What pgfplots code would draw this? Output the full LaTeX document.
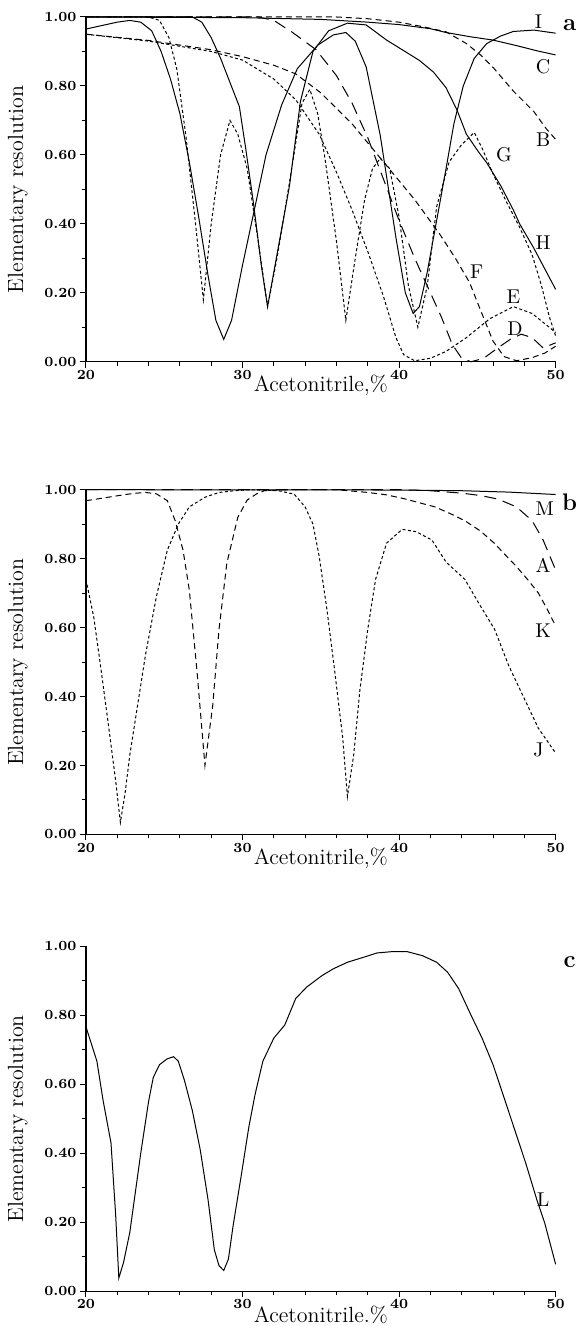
\documentclass[border=0pt]{standalone}
\usepackage{pgfplots}
\pgfplotsset{compat=1.18}
\begin{document}
\begin{tikzpicture}
\pgfplotsset{
  panel/.style={
    scale only axis, width=235pt, height=172.5pt,
    xmin=20, xmax=50, ymin=0, ymax=1,
    axis lines=left, axis line style={-, line width=0.6pt},
    xtick={20,30,40,50}, minor x tick num=4,
    ytick={0,0.2,0.4,0.6,0.8,1}, minor y tick num=1,
    tick align=outside, major tick length=3pt, minor tick length=2pt,
    tick style={line width=0.5pt, black},
    yticklabel style={inner sep=1.5pt, /pgf/number format/fixed, /pgf/number format/fixed zerofill, /pgf/number format/precision=2},
    xticklabel style={inner sep=1pt},
    tick label style={font=\scriptsize\bfseries},
    /pgf/number format/assume math mode=true,
    xlabel={Acetonitrile,\%},
    ylabel={Elementary resolution},
    label style={font=\fontsize{11}{13}\selectfont},
    xlabel style={at={(axis description cs:0.5,0)}, anchor=center, yshift=-12pt, inner sep=1pt},
    ylabel style={at={(axis description cs:-0.145,0.5)}, anchor=center},
    clip=false, no markers,
    cycle list={{black,solid}},
    every axis plot/.append style={black, line width=0.5pt},
  },
}
\tikzset{
  dots/.style={dash pattern=on 1.5pt off 1.2pt},
  dsh/.style={dash pattern=on 3pt off 2pt},
  ldsh/.style={dash pattern=on 6pt off 3.5pt},
  lab/.style={font=\normalsize},
  plab/.style={font=\large\bfseries, inner sep=1pt},
}
% page frame (578 x 1326 px at 0.5pt/px)
\path (-43pt,8.5pt) rectangle (246pt,-654.5pt);

% ---------------- panel a
\begin{axis}[panel, at={(0pt,0pt)}, anchor=north west]
% I
\addplot coordinates {(20,0.965) (21,0.975) (22,0.985) (22.8,0.99) (23.5,0.985) (24.2,0.96) (24.8,0.90) (25.4,0.82) (26,0.72) (26.6,0.58) (27.2,0.42) (27.8,0.25) (28.3,0.12) (28.8,0.065) (29.3,0.12) (30,0.28) (30.8,0.45) (31.5,0.60) (32.5,0.745) (33.5,0.85) (34.8,0.918) (35.8,0.948) (36.6,0.955) (37.2,0.93) (37.9,0.855) (38.8,0.656) (39.8,0.36) (40.4,0.20) (40.9,0.14) (41.3,0.16) (41.8,0.26) (42.4,0.41) (43,0.56) (43.5,0.69) (44.1,0.80) (44.8,0.88) (45.6,0.923) (46.5,0.945) (47.3,0.958) (48.6,0.962) (50,0.953)};
% C
\addplot coordinates {(20,1.0) (30,0.998) (35,0.993) (38,0.985) (40,0.978) (42,0.966) (43,0.955) (44.5,0.943) (46,0.933) (47.5,0.917) (48.8,0.902) (50,0.89)};
% H
\addplot coordinates {(20,1.0) (26.8,1.0) (27.4,0.985) (28,0.94) (28.6,0.88) (29.2,0.81) (29.8,0.74) (30.2,0.62) (30.7,0.46) (31.2,0.28) (31.6,0.16) (32.2,0.31) (33,0.51) (33.7,0.755) (34.5,0.90) (35.5,0.96) (36.7,0.982) (37.9,0.977) (39.2,0.933) (40.2,0.905) (41.3,0.874) (42.2,0.84) (43,0.795) (43.7,0.73) (44.3,0.66) (45.1,0.607) (45.6,0.577) (46.5,0.51) (47.3,0.44) (47.7,0.40) (48.6,0.33) (49.3,0.27) (50,0.21)};
% B
\addplot[dsh] coordinates {(20,1.0) (36,1.0) (38,0.995) (40,0.985) (41.5,0.972) (43,0.957) (44.3,0.923) (45.2,0.89) (46,0.854) (47.3,0.785) (48.6,0.726) (49.4,0.676) (50,0.645)};
% D
\addplot[ldsh] coordinates {(20,1.0) (31,1.0) (32,0.99) (33.2,0.955) (34.7,0.905) (36,0.83) (37,0.75) (38,0.65) (39,0.53) (40,0.41) (41,0.30) (42,0.20) (42.7,0.13) (43.4,0.05) (44,0.01) (44.6,0.0) (45.4,0.01) (46.3,0.04) (47.1,0.065) (47.8,0.08) (48.5,0.07) (49.2,0.04) (50,0.055)};
% E
\addplot[dots] coordinates {(20,0.95) (24,0.93) (28,0.90) (30,0.875) (32,0.82) (33.4,0.76) (34.9,0.66) (36,0.55) (37,0.44) (38,0.32) (39,0.19) (39.8,0.07) (40.3,0.02) (41,0.003) (42,0.01) (43,0.03) (44.3,0.07) (45.8,0.125) (47.3,0.16) (48.5,0.14) (50,0.085)};
% F
\addplot[dsh] coordinates {(20,0.95) (24,0.932) (28,0.905) (30,0.885) (32,0.86) (33.4,0.835) (35,0.78) (37,0.69) (39,0.58) (41,0.47) (42.6,0.37) (43.6,0.30) (44.5,0.23) (45.2,0.15) (46,0.06) (46.7,0.015) (47.5,0.003) (48.5,0.012) (49.3,0.025) (50,0.045)};
% G
\addplot[dots] coordinates {(20,1.0) (24,1.0) (24.7,0.99) (25.3,0.94) (25.8,0.85) (26.4,0.65) (27,0.40) (27.5,0.18) (28,0.40) (28.6,0.60) (29.2,0.70) (29.7,0.66) (30.3,0.56) (31,0.35) (31.6,0.16) (32.2,0.30) (33,0.52) (33.8,0.75) (34.3,0.79) (34.8,0.72) (35.3,0.58) (36,0.35) (36.6,0.12) (37.2,0.30) (37.8,0.47) (38.3,0.56) (38.8,0.59) (39.4,0.56) (40,0.42) (40.6,0.22) (41.2,0.10) (41.8,0.22) (42.4,0.45) (43.2,0.58) (44,0.63) (44.8,0.665) (45.3,0.62) (46,0.545) (46.9,0.46) (47.7,0.39) (48.5,0.31) (49.1,0.22) (49.6,0.13) (50,0.075)};
\node[lab] at (axis cs:48.9,0.985) {I};
\node[lab] at (axis cs:49.2,0.855) {C};
\node[lab] at (axis cs:49.2,0.645) {B};
\node[lab] at (axis cs:46.7,0.60) {G};
\node[lab] at (axis cs:49.2,0.345) {H};
\node[lab] at (axis cs:44.95,0.26) {F};
\node[lab] at (axis cs:47.3,0.19) {E};
\node[lab] at (axis cs:47.4,0.095) {D};
\node[plab] at (axis cs:50.9,0.975) {a};
\end{axis}

% ---------------- panel b
\begin{axis}[panel, at={(0pt,-236.5pt)}, anchor=north west]
% M
\addplot coordinates {(20,1.0) (40,0.999) (44,0.997) (47,0.993) (50,0.986)};
% A
\addplot[ldsh] coordinates {(20,1.0) (40,1.0) (42,0.997) (44,0.99) (45.2,0.983) (46.3,0.973) (47.5,0.95) (48.5,0.91) (49.2,0.854) (50,0.767)};
% K
\addplot[dsh] coordinates {(20,0.968) (21,0.975) (22.1,0.983) (23,0.989) (23.8,0.992) (24.5,0.988) (25.2,0.968) (25.7,0.91) (26.2,0.825) (26.6,0.71) (27.1,0.47) (27.6,0.20) (28.1,0.375) (28.5,0.595) (29,0.787) (29.7,0.92) (30.3,0.97) (30.9,0.988) (31.4,0.997) (33,1.0) (36,1.0) (38,0.992) (39.2,0.985) (40.4,0.973) (41.3,0.962) (42.3,0.95) (43.3,0.93) (44.2,0.91) (45.2,0.88) (46.1,0.844) (46.8,0.81) (47.5,0.777) (48.2,0.74) (48.9,0.70) (49.5,0.65) (50,0.605)};
% J
\addplot[dots] coordinates {(20,0.74) (20.5,0.63) (20.9,0.50) (21.4,0.33) (21.9,0.155) (22.2,0.035) (22.5,0.12) (22.8,0.23) (23.3,0.375) (23.8,0.52) (24.5,0.69) (25.2,0.825) (25.9,0.90) (26.6,0.95) (27.6,0.978) (28.5,0.992) (29.5,0.997) (30.5,1.0) (32.3,0.997) (33.3,0.987) (34,0.95) (34.5,0.90) (34.9,0.806) (35.4,0.65) (35.9,0.47) (36.4,0.28) (36.7,0.11) (37.1,0.23) (37.5,0.42) (38,0.595) (38.5,0.74) (39.2,0.845) (40.2,0.885) (41.1,0.878) (42.1,0.854) (43,0.79) (44.2,0.74) (45.1,0.67) (46.1,0.595) (47,0.49) (48,0.394) (48.9,0.308) (50,0.236)};
\node[lab] at (axis cs:49.3,0.945) {M};
\node[lab] at (axis cs:49.2,0.78) {A};
\node[lab] at (axis cs:49.2,0.59) {K};
\node[lab] at (axis cs:48.9,0.245) {J};
\node[plab] at (axis cs:50.9,0.965) {b};
\end{axis}

% ---------------- panel c
\begin{axis}[panel, at={(0pt,-465pt)}, anchor=north west, xlabel={Acetonitrile.\%}]
% L
\addplot coordinates {(20,0.767) (20.7,0.667) (21.1,0.552) (21.6,0.43) (21.9,0.22) (22.1,0.038) (22.4,0.083) (22.8,0.17) (23.5,0.40) (24,0.55) (24.3,0.62) (24.7,0.657) (25.2,0.674) (25.6,0.68) (25.9,0.667) (26.3,0.61) (26.8,0.523) (27.3,0.41) (27.8,0.265) (28.2,0.12) (28.5,0.074) (28.8,0.06) (29.1,0.093) (29.4,0.19) (29.9,0.33) (30.4,0.475) (30.8,0.57) (31.3,0.667) (32,0.734) (32.7,0.772) (33.4,0.849) (34.1,0.882) (35.1,0.916) (35.8,0.935) (36.7,0.954) (37.7,0.968) (38.6,0.981) (39.6,0.985) (40.5,0.985) (41.5,0.973) (42.4,0.954) (43.1,0.925) (43.8,0.878) (44.6,0.80) (45.3,0.734) (46,0.657) (46.7,0.562) (47.4,0.466) (48.1,0.37) (48.8,0.265) (49.3,0.198) (50,0.078)};
\node[lab] at (axis cs:49.2,0.265) {L};
\node[plab] at (axis cs:50.9,0.955) {c};
\end{axis}
\end{tikzpicture}
\end{document}
